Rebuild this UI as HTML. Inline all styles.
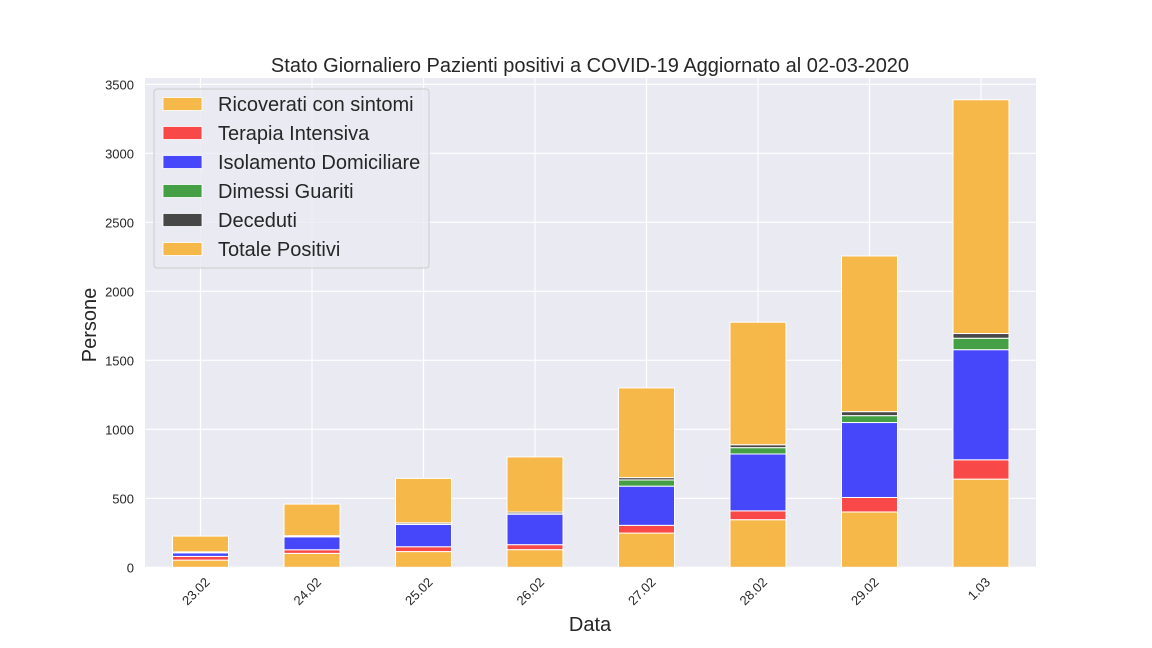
<!DOCTYPE html>
<html><head><meta charset="utf-8"><style>
body{margin:0;background:#fff;}
svg{display:block;font-family:"Liberation Sans",Arial,sans-serif;}
</style></head><body>
<svg id="chart" width="1152" height="648">
<rect x="145" y="78" width="891" height="489" fill="#eaeaf2"/>
<g id="grid"></g>
<g id="bars"></g>
<g id="ticks"></g>
<text x="590" y="72" text-anchor="middle" font-size="20" fill="#262626">Stato Giornaliero Pazienti positivi a COVID-19 Aggiornato al 02-03-2020</text>
<text x="96" y="325" text-anchor="middle" font-size="20" fill="#262626" transform="rotate(-90 96 325)">Persone</text>
<text x="590" y="631" text-anchor="middle" font-size="20" fill="#262626">Data</text>
<g id="legend">
<rect x="154" y="89" width="275" height="179" rx="3" fill="#eaeaf2" fill-opacity="0.8" stroke="#cccccc"/>
</g>
</svg>
<script>
const categories=["23.02","24.02","25.02","26.02","27.02","28.02","29.02","1.03"];
const ricoverati=[52,101,114,128,248,345,401,639];
const terapia=[27,26,35,36,56,64,105,140];
const isolamento=[26,94,162,221,284,412,543,798];
const guariti=[1,1,1,3,45,46,50,83];
const deceduti=[6,7,10,12,17,21,29,34];
const totale=[114,229,322,400,650,888,1128,1694];
const yTicks=[0,500,1000,1500,2000,2500,3000,3500];
const seriesNames=["Ricoverati con sintomi","Terapia Intensiva","Isolamento Domiciliare","Dimessi Guariti","Deceduti","Totale Positivi"];
const colors=["#f7b84a","#f94848","#4646fa","#45a045","#474747","#f7b84a"];
const NS="http://www.w3.org/2000/svg";
const y=v=>567.3-v*0.138;
const x=i=>200.5+111.5*i;
const bw=56;
function mk(t,a,p){const e=document.createElementNS(NS,t);for(const k in a)e.setAttribute(k,a[k]);p.appendChild(e);return e;}
const grid=document.getElementById('grid'),ticks=document.getElementById('ticks'),bars=document.getElementById('bars');
yTicks.forEach(v=>{
 const l=mk('line',{x1:145,x2:1036,y1:y(v),y2:y(v),stroke:'#fff','stroke-width':1.2},grid);
 
 
 const t=mk('text',{x:134,y:y(v)+5,'text-anchor':'end','font-size':13,fill:'#262626'},ticks);
 t.textContent=v;
 
 
});
categories.forEach((c,i)=>{
 const l=mk('line',{x1:x(i),x2:x(i),y1:78,y2:567,stroke:'#fff','stroke-width':1.2},grid);
 
 
 const tx=x(i)+10;
 const t=mk('text',{x:tx,y:583,'text-anchor':'end','font-size':13,fill:'#262626',transform:`rotate(-45 ${tx} 583)`},ticks);
 t.textContent=c;
 
 
 const vals=[ricoverati[i],terapia[i],isolamento[i],guariti[i],deceduti[i],totale[i]];
 let base=0;
 vals.forEach((v,s)=>{
  const r=mk('rect',{x:x(i)-bw/2,y:y(base+v),width:bw,height:Math.max(0,y(base)-y(base+v)),fill:colors[s],stroke:'#fff','stroke-width':1},bars);
  
  
  base+=v;
 });
});
const lg=document.getElementById('legend');
seriesNames.forEach((n,s)=>{
 const cy=104+29*s;
 const r=mk('rect',{x:163,y:cy-6.5,width:39,height:13,fill:colors[s],stroke:'#fff','stroke-width':0.8},lg);
 
 
 const t=mk('text',{x:218,y:cy+7,'font-size':20,fill:'#262626'},lg);
 t.textContent=n;
 
 
});
</script>
</body></html>
